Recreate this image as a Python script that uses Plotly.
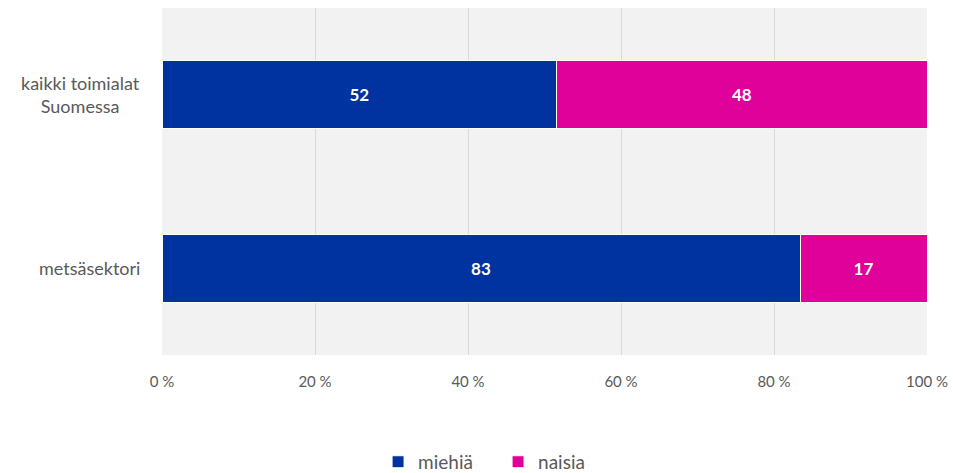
import plotly.graph_objects as go

categories = ["kaikki toimialat<br>Suomessa", "metsäsektori"]
miehia = [51.6, 83.4]
naisia = [48.4, 16.6]
series_names = ["miehiä", "naisia"]
tick_vals = [0, 20, 40, 60, 80, 100]
tick_text = ["0 %", "20 %", "40 %", "60 %", "80 %", "100 %"]

BLUE = "#0033A0"
PINK = "#E0009A"
GREY = "#595959"
FONT = "Lato"

fig = go.Figure()
for name, vals, col in [(series_names[0], miehia, BLUE), (series_names[1], naisia, PINK)]:
    fig.add_trace(go.Bar(
        y=categories, x=vals, name=name, orientation="h",
        marker=dict(color=col, line=dict(color="white", width=1)),
        text=vals, texttemplate="%{x:.0f}", textposition="inside",
        insidetextanchor="middle",
        textfont=dict(color="white", size=17, family=FONT, weight="bold"),
        hoverinfo="skip",
    ))

# category labels (centre-aligned lines, right-aligned block)
for cat in categories:
    fig.add_annotation(xref="paper", yref="y", x=0, y=cat, xshift=-20,
                       xanchor="right", yanchor="middle", align="center",
                       text=cat, showarrow=False,
                       font=dict(family=FONT, size=18, color=GREY))

fig.update_layout(
    barmode="stack",
    bargap=0.61,
    width=953, height=473,
    margin=dict(l=162, r=26, t=8, b=118, autoexpand=False),
    plot_bgcolor="#F2F2F2",
    paper_bgcolor="white",
    font=dict(family=FONT, size=15, color=GREY),
    legend=dict(orientation="h", x=0.4393, xanchor="center", y=-0.308, yanchor="middle",
                font=dict(size=19, color=GREY, family=FONT), traceorder="normal",
                entrywidth=75),
    uniformtext=dict(minsize=10, mode="show"),
)
fig.update_xaxes(range=[0, 100], tickvals=tick_vals, ticktext=tick_text,
                 showgrid=True, gridcolor="#D9D9D9", gridwidth=1,
                 zeroline=False, ticks="outside", ticklen=13, tickcolor="rgba(0,0,0,0)",
                 tickfont=dict(size=15, color=GREY, family=FONT), fixedrange=True)
fig.update_yaxes(autorange="reversed", showticklabels=False, fixedrange=True)

fig.write_html("out.html")
